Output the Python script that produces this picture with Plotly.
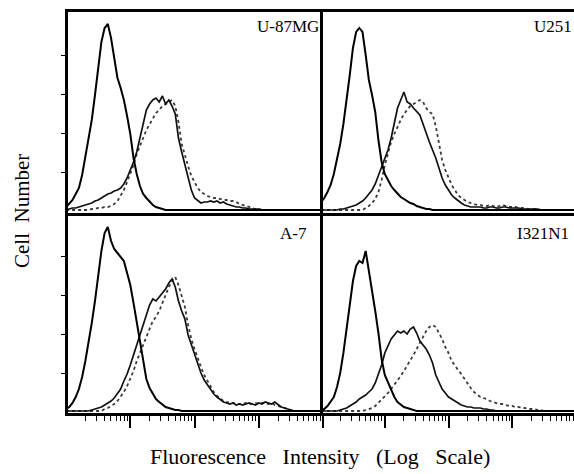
import plotly.graph_objects as go

# Channel grid (log10 fluorescence intensity), 0.05-decade bins
LOG_CHANNEL = [
    0.00, 0.05, 0.10, 0.15, 0.20, 0.25, 0.30, 0.35, 0.40, 0.45,
    0.50, 0.55, 0.60, 0.65, 0.70, 0.75, 0.80, 0.85, 0.90, 0.95,
    1.00, 1.05, 1.10, 1.15, 1.20, 1.25, 1.30, 1.35, 1.40, 1.45,
    1.50, 1.55, 1.60, 1.65, 1.70, 1.75, 1.80, 1.85, 1.90, 1.95,
    2.00, 2.05, 2.10, 2.15, 2.20, 2.25, 2.30, 2.35, 2.40, 2.45,
    2.50, 2.55, 2.60, 2.65, 2.70, 2.75, 2.80, 2.85, 2.90, 2.95,
    3.00, 3.05, 3.10, 3.15, 3.20, 3.25, 3.30, 3.35, 3.40, 3.45,
    3.50, 3.55, 3.60, 3.65, 3.70, 3.75, 3.80, 3.85, 3.90, 3.95,
    4.00,
]

PANEL_LABELS = ["U-87MG", "U251", "A-7", "I321N1"]

# ---- U-87MG ----
U87_CTRL = [
    3, 6, 10, 16, 22, 35, 52, 70, 90, 115,
    140, 168, 182, 186, 172, 150, 132, 122, 110, 94,
    76, 52, 36, 24, 16, 12, 8, 5, 3, 2,
    1, 0, 0, 0, 0, 0, 0, 0, 0, 0,
    0, 0, 0, 0, 0, 0, 0, 0, 0, 0,
    0, 0, 0, 0, 0, 0, 0, 0, 0, 0,
    0, 0, 0, 0, 0, 0, 0, 0, 0, 0,
    0, 0, 0, 0, 0, 0, 0, 0, 0, 0,
    0,
]
U87_POS = [
    0, 1, 2, 2, 3, 4, 5, 6, 7, 9,
    10, 12, 14, 16, 17, 19, 20, 22, 26, 32,
    40, 48, 58, 72, 88, 100, 106, 110, 112, 108,
    114, 106, 110, 104, 96, 72, 58, 46, 34, 20,
    12, 9, 7, 8, 8, 9, 8, 9, 7, 8,
    6, 5, 4, 3, 3, 2, 2, 1, 1, 1,
    1, 0, 0, 0, 0, 0, 0, 0, 0, 0,
    0, 0, 0, 0, 0, 0, 0, 0, 0, 0,
    0,
]
U87_DOT = [
    0, 0, 0, 0, 0, 0, 0, 0, 1, 1,
    2, 2, 3, 3, 4, 6, 9, 14, 20, 28,
    36, 45, 56, 65, 72, 80, 86, 92, 97, 100,
    104, 106, 108, 110, 104, 88, 66, 54, 44, 34,
    28, 22, 18, 16, 14, 13, 12, 12, 11, 10,
    10, 9, 9, 8, 6, 5, 4, 3, 2, 1,
    1, 0, 0, 0, 0, 0, 0, 0, 0, 0,
    0, 0, 0, 0, 0, 0, 0, 0, 0, 0,
    0,
]

# ---- U251 ----
U251_CTRL = [
    8, 12, 18, 25, 36, 50, 66, 86, 108, 135,
    162, 178, 182, 178, 155, 130, 115, 98, 70, 48,
    36, 30, 24, 20, 16, 13, 11, 9, 7, 6,
    4, 3, 2, 1, 1, 0, 0, 0, 0, 0,
    0, 0, 0, 0, 0, 0, 0, 0, 0, 0,
    0, 0, 0, 0, 0, 0, 0, 0, 0, 0,
    0, 0, 0, 0, 0, 0, 0, 0, 0, 0,
    0, 0, 0, 0, 0, 0, 0, 0, 0, 0,
    0,
]
U251_POS = [
    0, 0, 0, 0, 0, 0, 1, 1, 2, 3,
    4, 5, 7, 9, 12, 16, 20, 26, 34, 42,
    52, 60, 72, 86, 102, 110, 118, 108, 106, 102,
    98, 95, 86, 76, 68, 60, 52, 42, 32, 25,
    20, 15, 12, 9, 7, 5, 4, 3, 3, 3,
    3, 2, 2, 3, 3, 2, 2, 3, 3, 2,
    2, 2, 2, 1, 1, 1, 1, 1, 1, 0,
    0, 0, 0, 0, 0, 0, 0, 0, 0, 0,
    0,
]
U251_DOT = [
    0, 0, 0, 0, 0, 0, 0, 0, 0, 0,
    0, 0, 0, 0, 2, 4, 7, 11, 18, 30,
    45, 58, 68, 76, 84, 90, 96, 100, 104, 106,
    108, 110, 108, 102, 98, 96, 84, 68, 50, 40,
    32, 25, 20, 15, 12, 10, 8, 7, 6, 5,
    5, 4, 4, 5, 4, 3, 4, 5, 4, 3,
    3, 3, 2, 2, 2, 1, 1, 1, 1, 0,
    0, 0, 0, 0, 0, 0, 0, 0, 0, 0,
    0,
]

# ---- A-7 ----
A7_CTRL = [
    2, 4, 8, 14, 22, 34, 50, 68, 88, 110,
    138, 160, 178, 184, 170, 162, 158, 154, 150, 138,
    126, 108, 90, 72, 50, 32, 23, 17, 12, 9,
    6, 4, 3, 2, 1, 1, 0, 0, 0, 0,
    0, 0, 0, 0, 0, 0, 0, 0, 0, 0,
    0, 0, 0, 0, 0, 0, 0, 0, 0, 0,
    0, 0, 0, 0, 0, 0, 0, 0, 0, 0,
    0, 0, 0, 0, 0, 0, 0, 0, 0, 0,
    0,
]
A7_POS = [
    0, 0, 0, 0, 0, 0, 0, 0, 1, 2,
    3, 4, 6, 8, 10, 13, 17, 22, 30, 37,
    46, 55, 66, 76, 86, 96, 106, 112, 110, 114,
    118, 122, 128, 132, 124, 110, 100, 92, 76, 66,
    58, 46, 38, 31, 26, 21, 17, 14, 11, 9,
    8, 7, 8, 6, 7, 6, 7, 8, 7, 6,
    8, 7, 9, 8, 7, 9, 6, 4, 3, 2,
    1, 0, 0, 0, 0, 0, 0, 0, 0, 0,
    0,
]
A7_DOT = [
    0, 0, 0, 0, 0, 0, 0, 0, 0, 0,
    0, 0, 2, 3, 5, 7, 10, 14, 19, 25,
    32, 40, 50, 58, 66, 74, 82, 90, 94, 100,
    108, 116, 124, 130, 134, 126, 116, 104, 86, 72,
    62, 52, 44, 36, 30, 24, 19, 15, 12, 10,
    9, 8, 8, 7, 7, 7, 8, 7, 7, 8,
    7, 8, 8, 7, 8, 6, 5, 4, 3, 2,
    1, 0, 0, 0, 0, 0, 0, 0, 0, 0,
    0,
]

# ---- I321N1 ----
I321_CTRL = [
    1, 2, 5, 9, 14, 24, 38, 58, 82, 106,
    130, 145, 150, 148, 160, 140, 122, 100, 78, 52,
    36, 28, 20, 14, 9, 6, 4, 3, 2, 1,
    0, 0, 0, 0, 0, 0, 0, 0, 0, 0,
    0, 0, 0, 0, 0, 0, 0, 0, 0, 0,
    0, 0, 0, 0, 0, 0, 0, 0, 0, 0,
    0, 0, 0, 0, 0, 0, 0, 0, 0, 0,
    0, 0, 0, 0, 0, 0, 0, 0, 0, 0,
    0,
]
I321_POS = [
    0, 0, 0, 0, 0, 0, 1, 2, 3, 5,
    7, 9, 12, 14, 16, 19, 22, 28, 36, 46,
    58, 66, 72, 76, 80, 78, 80, 77, 82, 84,
    78, 70, 66, 62, 56, 48, 36, 28, 22, 18,
    14, 12, 10, 8, 6, 5, 4, 4, 3, 3,
    3, 2, 2, 1, 1, 0, 0, 0, 0, 0,
    0, 0, 0, 0, 0, 0, 0, 0, 0, 0,
    0, 0, 0, 0, 0, 0, 0, 0, 0, 0,
    0,
]
I321_DOT = [
    0, 0, 0, 0, 0, 0, 0, 0, 0, 0,
    0, 0, 0, 0, 1, 2, 3, 5, 8, 11,
    14, 18, 22, 26, 31, 35, 40, 45, 50, 56,
    62, 68, 74, 80, 84, 86, 84, 78, 72, 64,
    58, 50, 45, 41, 37, 32, 28, 23, 19, 16,
    14, 13, 12, 10, 9, 8, 7, 7, 6, 5,
    5, 4, 4, 3, 3, 2, 2, 2, 1, 1,
    0, 0, 0, 0, 0, 0, 0, 0, 0, 0,
    0,
]

PANELS = [
    (U87_CTRL, U87_POS, U87_DOT),
    (U251_CTRL, U251_POS, U251_DOT),
    (A7_CTRL, A7_POS, A7_DOT),
    (I321_CTRL, I321_POS, I321_DOT),
]

intensity = [10 ** v for v in LOG_CHANNEL]

W, H = 574, 474
def px(x):
    return x / W
def py(y):
    return 1 - y / H

X_LEFT, X_MID, X_RIGHT = 68, 323, 574
Y_TOP, Y_MID, Y_BOT = 12, 213, 413

fig = go.Figure()

for i, (ctrl, pos, dot) in enumerate(PANELS):
    n = "" if i == 0 else str(i + 1)
    xa, ya = "x" + n, "y" + n
    fig.add_trace(go.Scatter(x=intensity, y=dot, mode="lines", xaxis=xa, yaxis=ya,
                             line=dict(color="#3a3a3a", width=1.8, dash="dot"),
                             showlegend=False, hoverinfo="skip"))
    fig.add_trace(go.Scatter(x=intensity, y=pos, mode="lines", xaxis=xa, yaxis=ya,
                             line=dict(color="#111111", width=1.7),
                             showlegend=False, hoverinfo="skip"))
    fig.add_trace(go.Scatter(x=intensity, y=ctrl, mode="lines", xaxis=xa, yaxis=ya,
                             line=dict(color="#000000", width=2.0),
                             showlegend=False, hoverinfo="skip"))

major = [1, 10, 100, 1000, 10000]
minor = [k * 10 ** d for d in range(4) for k in range(2, 10)]

xdom_left = [px(X_LEFT), px(X_MID)]
xdom_right = [px(X_MID), px(X_RIGHT)]
ydom_top = [py(Y_MID), py(Y_TOP)]
ydom_bot = [py(Y_BOT), py(Y_MID)]

def xaxis(domain, anchor, rng, bottom):
    d = dict(domain=domain, anchor=anchor, type="log", range=rng,
             showgrid=False, zeroline=False, showticklabels=False,
             showline=True, linecolor="black", linewidth=2.5)
    if bottom:
        d.update(ticks="outside", tickvals=major, ticklen=12, tickwidth=1.6,
                 tickcolor="black",
                 minor=dict(ticks="outside", tickvals=minor, ticklen=5,
                            tickwidth=1.2, tickcolor="black", showgrid=False),
                 mirror=False)
    else:
        d.update(ticks="", mirror=True)
    return d

def yaxis(domain, anchor, rng, left):
    d = dict(domain=domain, anchor=anchor, range=rng, showgrid=False,
             zeroline=False, showticklabels=False, showline=True,
             linecolor="black", linewidth=2.5)
    if left:
        d.update(ticks="outside", tickvals=[38, 77, 116, 155], ticklen=4,
                 tickwidth=1, tickcolor="black")
    else:
        d.update(ticks="")
    return d

fig.update_layout(
    width=W, height=H,
    margin=dict(l=0, r=0, t=0, b=0),
    paper_bgcolor="white", plot_bgcolor="white",
    font=dict(family="Liberation Serif", color="black"),
    xaxis=xaxis(xdom_left, "y", [0.03, 4.0], False),
    xaxis2=xaxis(xdom_right, "y2", [0.03, 3.97], False),
    xaxis3=xaxis(xdom_left, "y3", [0.03, 4.0], True),
    xaxis4=xaxis(xdom_right, "y4", [0.03, 3.97], True),
    yaxis=yaxis(ydom_top, "x", [-3, 198], True),
    yaxis2=yaxis(ydom_top, "x2", [-3, 198], False),
    yaxis3=yaxis(ydom_bot, "x3", [-2, 198], True),
    yaxis4=yaxis(ydom_bot, "x4", [-2, 198], False),
)

label_pos = [(321, 27), (574, 27), (309, 233), (571, 234)]
for lab, (lx, ly) in zip(PANEL_LABELS, label_pos):
    fig.add_annotation(text=lab, x=px(lx), y=py(ly), xref="paper", yref="paper",
                       xanchor="right", yanchor="middle", showarrow=False,
                       font=dict(family="Liberation Serif", size=17, color="black"))

fig.add_annotation(text="Cell\u00a0\u00a0Number", x=px(22), y=py(211),
                   xref="paper", yref="paper", textangle=-90,
                   xanchor="center", yanchor="middle", showarrow=False,
                   font=dict(family="Liberation Serif", size=21, color="black"))
fig.add_annotation(text="Fluorescence\u00a0\u00a0\u00a0Intensity\u00a0\u00a0\u00a0(Log\u00a0\u00a0\u00a0Scale)",
                   x=px(320), y=py(456), xref="paper", yref="paper",
                   xanchor="center", yanchor="middle", showarrow=False,
                   font=dict(family="Liberation Serif", size=22, color="black"))

fig.write_html("out.html")
